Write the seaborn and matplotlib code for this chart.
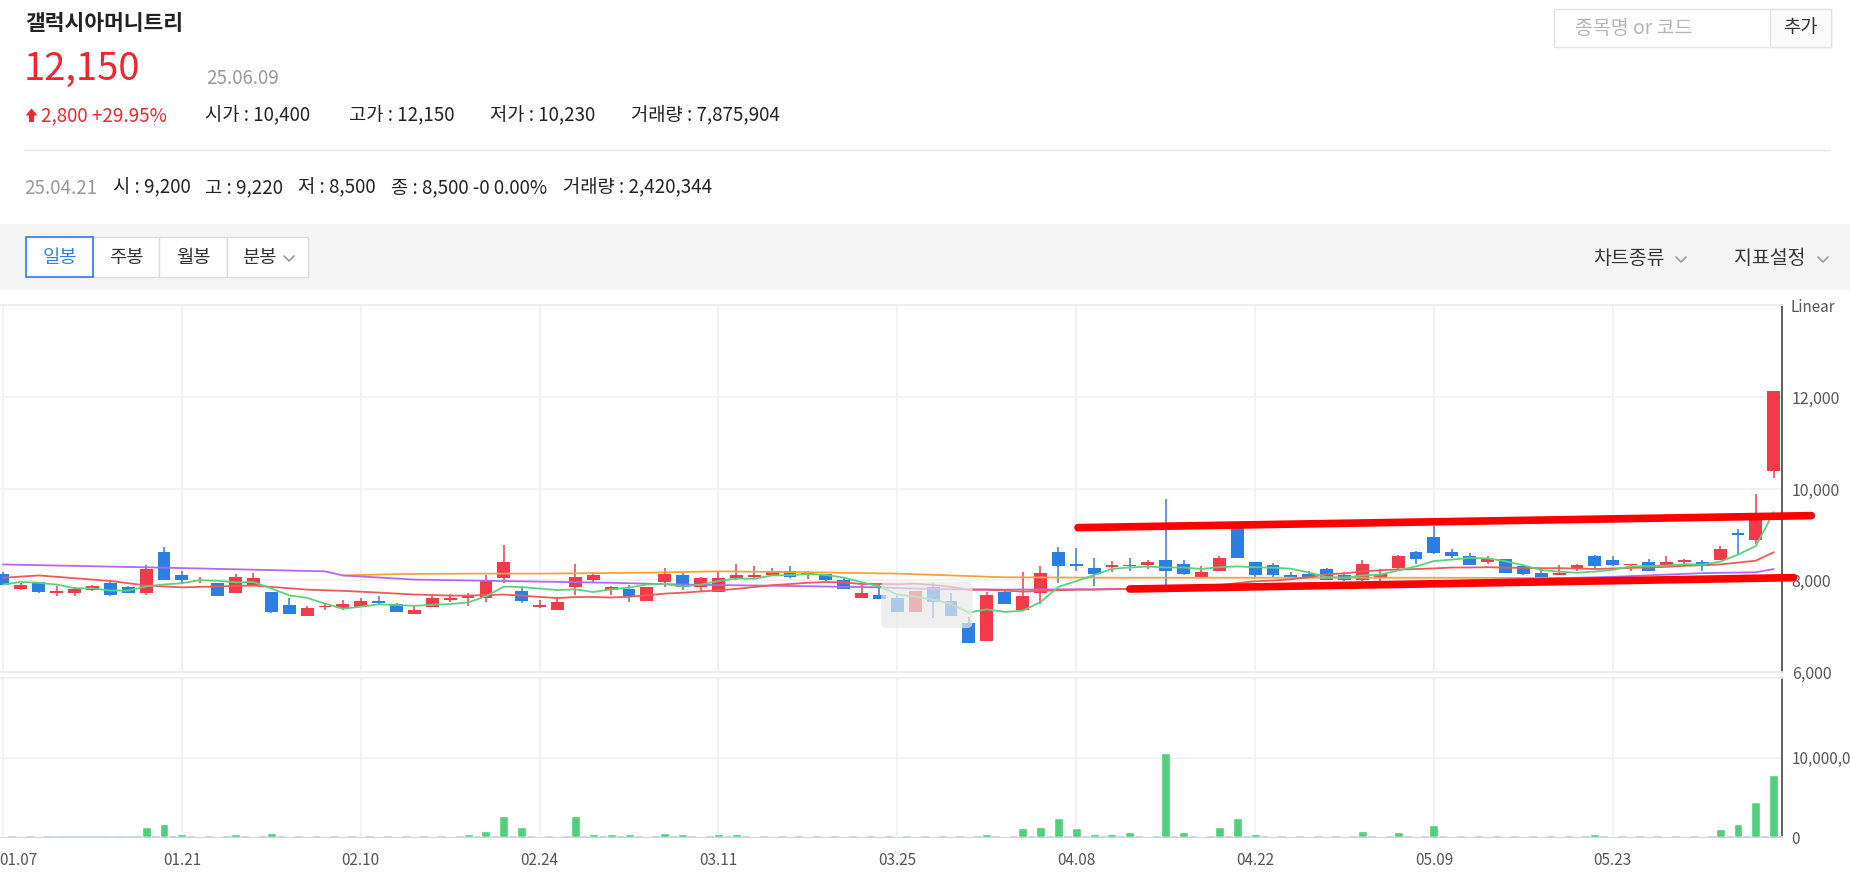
import matplotlib
matplotlib.use('Agg')
import matplotlib.pyplot as plt
import matplotlib.transforms as mtransforms
from matplotlib.patches import Rectangle, FancyBboxPatch, Polygon
import numpy as np
import pandas as pd
import seaborn as sns

# ---- data (daily candles 25.01.07 .. 25.06.09) ----
stock_name = '갤럭시아머니트리'
year = '25'

dates = ['01.07', '01.08', '01.09', '01.10', '01.13', '01.14', '01.15', '01.16', '01.17', '01.20',
         '01.21', '01.22', '01.23', '01.24', '01.31', '02.03', '02.04', '02.05', '02.06', '02.07',
         '02.10', '02.11', '02.12', '02.13', '02.14', '02.17', '02.18', '02.19', '02.20', '02.21',
         '02.24', '02.25', '02.26', '02.27', '02.28', '03.04', '03.05', '03.06', '03.07', '03.10',
         '03.11', '03.12', '03.13', '03.14', '03.17', '03.18', '03.19', '03.20', '03.21', '03.24',
         '03.25', '03.26', '03.27', '03.28', '03.31', '04.01', '04.02', '04.03', '04.04', '04.07',
         '04.08', '04.09', '04.10', '04.11', '04.14', '04.15', '04.16', '04.17', '04.18', '04.21',
         '04.22', '04.23', '04.24', '04.25', '04.28', '04.29', '04.30', '05.02', '05.07', '05.08',
         '05.09', '05.12', '05.13', '05.14', '05.15', '05.16', '05.19', '05.20', '05.21', '05.22',
         '05.23', '05.26', '05.27', '05.28', '05.29', '05.30', '06.02', '06.04', '06.05', '06.09']

opens = [8150, 7820, 7960, 7720, 7720, 7790, 7950, 7850, 7720, 8630,
         8110, 7980, 7940, 7720, 7910, 7740, 7460, 7230, 7420, 7400,
         7420, 7550, 7480, 7260, 7420, 7580, 7620, 7620, 8050, 7760,
         7420, 7360, 7850, 8020, 7800, 7820, 7560, 7960, 8110, 7850,
         7750, 8050, 8080, 8120, 8210, 8140, 8150, 8020, 7620, 7690,
         7620, 7320, 7850, 7550, 7060, 6670, 7750, 7360, 7720, 8630,
         8370, 8280, 8300, 8340, 8340, 8440, 8370, 8080, 8210, 9200,
         8400, 8340, 8110, 8150, 8240, 8110, 8020, 8060, 8280, 8630,
         8960, 8630, 8540, 8410, 8470, 8310, 8170, 8110, 8240, 8530,
         8440, 8340, 8410, 8340, 8410, 8410, 8440, 9030, 8880, 10400]
highs = [8190, 7940, 7960, 7880, 7850, 7910, 7980, 7890, 8340, 8740,
         8210, 8080, 7950, 8150, 8170, 7750, 7620, 7450, 7500, 7570,
         7620, 7660, 7500, 7450, 7690, 7710, 7720, 8130, 8770, 7850,
         7570, 7640, 8350, 8180, 7890, 7910, 7850, 8280, 8180, 8080,
         8180, 8370, 8310, 8280, 8310, 8200, 8150, 8070, 7920, 7920,
         7710, 7770, 7950, 7720, 7200, 7750, 7820, 8180, 8310, 8740,
         8700, 8500, 8430, 8500, 8440, 9790, 8450, 8310, 8530, 9220,
         8400, 8390, 8180, 8200, 8280, 8180, 8440, 8240, 8560, 8640,
         9200, 8680, 8600, 8530, 8470, 8310, 8240, 8340, 8370, 8560,
         8530, 8370, 8470, 8530, 8470, 8440, 8760, 9130, 9880, 12150]
lows = [7900, 7790, 7720, 7660, 7660, 7770, 7670, 7720, 7690, 8010,
        7920, 7950, 7650, 7720, 7880, 7290, 7260, 7230, 7350, 7350,
        7420, 7480, 7320, 7260, 7420, 7530, 7440, 7530, 7950, 7500,
        7400, 7360, 7690, 7960, 7690, 7530, 7560, 7850, 7790, 7760,
        7750, 8020, 8060, 8110, 8060, 8040, 7950, 7820, 7620, 7590,
        7320, 7320, 7170, 7230, 6640, 6670, 7490, 7360, 7490, 7950,
        8210, 7880, 8180, 8210, 8240, 7910, 8110, 8080, 8210, 8500,
        8080, 8080, 8070, 8080, 8020, 7990, 7990, 7990, 8240, 8370,
        8570, 8500, 8340, 8370, 8170, 8110, 8010, 8110, 8210, 8280,
        8310, 8210, 8210, 8310, 8310, 8210, 8440, 8570, 8790, 10230]
closes = [7910, 7910, 7740, 7780, 7820, 7880, 7690, 7720, 8250, 8020,
          8020, 8020, 7660, 8080, 8050, 7320, 7260, 7390, 7450, 7490,
          7550, 7510, 7320, 7360, 7610, 7620, 7690, 8000, 8410, 7560,
          7460, 7520, 8080, 8120, 7850, 7660, 7850, 8140, 7850, 8050,
          8050, 8120, 8120, 8210, 8080, 8180, 8020, 7820, 7720, 7590,
          7320, 7770, 7530, 7230, 6640, 7680, 7490, 7650, 8170, 8310,
          8310, 8150, 8340, 8310, 8410, 8210, 8150, 8180, 8500, 8500,
          8110, 8110, 8070, 8080, 8020, 8020, 8370, 8150, 8530, 8470,
          8600, 8530, 8340, 8470, 8170, 8150, 8010, 8170, 8340, 8310,
          8340, 8370, 8210, 8410, 8440, 8310, 8680, 8990, 9350, 12150]
volumes = [170000, 170000, 170000, 60000, 60000, 60000, 60000, 60000, 1310000, 1690000,
           340000, 170000, 170000, 340000, 80000, 550000, 170000, 80000, 80000, 80000,
           80000, 80000, 80000, 80000, 170000, 80000, 340000, 760000, 2660000, 1310000,
           170000, 80000, 2660000, 340000, 340000, 340000, 170000, 550000, 340000, 80000,
           340000, 340000, 170000, 80000, 80000, 80000, 170000, 80000, 80000, 80000,
           170000, 80000, 170000, 80000, 170000, 340000, 80000, 1140000, 1310000, 2450000,
           1140000, 340000, 340000, 590000, 170000, 10630000, 590000, 170000, 1310000, 2420344,
           340000, 170000, 80000, 80000, 170000, 80000, 760000, 170000, 590000, 170000,
           1520000, 170000, 170000, 80000, 80000, 80000, 80000, 80000, 80000, 340000,
           170000, 80000, 170000, 170000, 170000, 170000, 970000, 1690000, 4390000, 7875904]

# moving-average values read where the history starts before the window
ma5_head = [7910, 7970, 7950, 7910]
ma20_head_idx = [0, 2, 6, 8, 10, 12, 14, 17]
ma20_head_val = [8060, 8110, 7990, 7890, 7850, 7870, 7890, 7800]
ma60_idx = [0, 9, 18, 19, 23, 26, 34, 38, 44, 49, 52, 56, 62, 70, 80, 90, 95, 98, 99]
ma60_val = [8350, 8280, 8200, 8110, 8020, 8000, 7950, 7910, 7880, 7850, 7810, 7800, 7810,
            7880, 7980, 8080, 8160, 8180, 8250]
ma120_idx = [19, 22, 26, 30, 36, 40, 45, 50, 53, 56, 62, 70, 80, 90, 99]
ma120_val = [8110, 8140, 8150, 8150, 8170, 8200, 8180, 8150, 8110, 8070, 8060, 8060, 8060, 8050, 8050]

# hand-drawn channel lines (day index, price)
upper_x, upper_y = [60.1, 101.1], [9155, 9417]
lower_x, lower_y = [63.0, 100.1], [7814, 8062]

tip_day = 69  # hovered day shown in the second header row

RED = '#f23a4b'
BLUE = '#2b7fe3'
TXT = '#222222'

sns.set_theme(style='white')
plt.rcParams['font.family'] = ['Noto Sans CJK KR', 'DejaVu Sans']

fig = plt.figure(figsize=(18.5, 8.75), dpi=100)

# ---- page header drawn in pixel coordinates ----
bg = fig.add_axes([0, 0, 1, 1])
bg.set_xlim(0, 1850)
bg.set_ylim(875, 0)
bg.axis('off')

n = len(closes)
chg = closes[-1] - closes[-2]
pct = chg / closes[-2] * 100

bg.text(25, 24, stock_name, fontsize=15.5, fontweight='bold', color=TXT, va='center')
bg.text(24, 69, f'{closes[-1]:,}', fontsize=27.5, fontweight='medium', color='#f0262f', va='center')
bg.text(206, 78, f'{year}.{dates[-1]}', fontsize=13.5, color='#999999', va='center')
bg.add_patch(Polygon([(31.5, 108.5), (37.5, 115.5), (34, 115.5), (34, 122), (29, 122),
                      (29, 115.5), (25.5, 115.5)], closed=True, color='#f0262f', lw=0))
bg.text(41, 116, f'{chg:,} +{pct:.2f}%', fontsize=13.5, color='#f0262f', va='center')
row3 = [(205, f'시가 : {opens[-1]:,}'), (349, f'고가 : {highs[-1]:,}'),
        (490, f'저가 : {lows[-1]:,}'), (631, f'거래량 : {volumes[-1]:,}')]
for xx, s in row3:
    bg.text(xx, 116, s, fontsize=13.5, color=TXT, va='center')
bg.plot([24, 1830], [150, 150], color='#e6e6e6', lw=1)

t = tip_day
bg.text(24, 188, f'{year}.{dates[t]}', fontsize=13.5, color='#999999', va='center')
row4 = [(113, f'시 : {opens[t]:,}'), (205, f'고 : {highs[t]:,}'), (298, f'저 : {lows[t]:,}'),
        (391, f'종 : {closes[t]:,} -0 0.00%'), (563, f'거래량 : {volumes[t]:,}')]
for xx, s in row4:
    bg.text(xx, 188, s, fontsize=13.5, color=TXT, va='center')

# search box
bg.add_patch(Rectangle((1554, 9), 277, 38, fc='white', ec='#e3e3e3', lw=1))
bg.add_patch(Rectangle((1770, 9), 61, 38, fc='#fafafa', ec='#e3e3e3', lw=1))
bg.text(1575, 28, '종목명 or 코드', fontsize=14, color='#b5b5b5', va='center')
bg.text(1800, 28, '추가', fontsize=13.5, color='#333333', va='center', ha='center')

# toolbar
bg.add_patch(Rectangle((0, 224), 1850, 66, fc='#f5f5f5', lw=0))
tabs = [('일봉', 26, 93, 59.5), ('주봉', 93, 159, 126), ('월봉', 159, 227, 193), ('분봉', 227, 308, 259)]
for name, x0, x1, xc in tabs:
    bg.add_patch(Rectangle((x0, 237), x1 - x0, 40, fc='white', ec='#dddddd', lw=1))
bg.add_patch(Rectangle((26, 237), 67, 40, fc='none', ec='#2f80ed', lw=1.2))
for name, x0, x1, xc in tabs:
    bg.text(xc, 257, name, fontsize=13.5, ha='center', va='center',
            color='#2f80ed' if name == '일봉' else '#333333')


def chevron(x0, y0):
    bg.plot([x0, x0 + 5, x0 + 10], [y0 - 3, y0 + 2, y0 - 3], color='#999999', lw=1.2)


chevron(284, 259)
bg.text(1593, 258, '차트종류', fontsize=14, color='#333333', va='center')
chevron(1676, 260)
bg.text(1734, 258, '지표설정', fontsize=14, color='#333333', va='center')
chevron(1818, 260)

# ---- price panel ----
ax = fig.add_axes([0, 1 - 672 / 875, 1782 / 1850, 367 / 875])
axv = fig.add_axes([0, 1 - 837 / 875, 1782 / 1850, 159 / 875])

x = np.arange(n)
o = np.array(opens)
h = np.array(highs)
l = np.array(lows)
c = np.array(closes)
cols = np.where(c >= o, RED, BLUE)

ax.vlines(x, l, h, colors=cols, lw=1.1, zorder=3)
ax.bar(x, np.maximum(np.abs(c - o), 25), bottom=np.minimum(o, c), width=0.72,
       color=cols, lw=0, zorder=4)

cs = pd.Series(closes, dtype=float)
ma5 = cs.rolling(5).mean()
ma5_df = pd.DataFrame({'x': x, 'y': list(ma5_head) + list(ma5[4:])})
ma20 = cs.rolling(20).mean()
ma20_df = pd.DataFrame({'x': ma20_head_idx + list(x[19:]),
                        'y': ma20_head_val + list(ma20[19:])})
ma60_df = pd.DataFrame({'x': ma60_idx, 'y': ma60_val})
ma120_df = pd.DataFrame({'x': ma120_idx, 'y': ma120_val})

for df, col in [(ma120_df, '#f5a13c'), (ma60_df, '#b468ee'), (ma20_df, '#ee5a5a'), (ma5_df, '#5ad27c')]:
    sns.lineplot(data=df, x='x', y='y', color=col, lw=1.3, sort=False, ax=ax, zorder=5)

# grey hover overlay box
ax.add_patch(FancyBboxPatch((49.1, 6960), 5.1, 1010,
                            boxstyle='round,pad=0,rounding_size=0.3', mutation_aspect=380,
                            fc='#e9e9e9', ec='none', alpha=0.7, zorder=6))

ax.plot(upper_x, upper_y, color='#ff0000', lw=5.5, solid_capstyle='round', clip_on=False, zorder=10)
ax.plot(lower_x, lower_y, color='#ff0000', lw=5.5, solid_capstyle='round', clip_on=False, zorder=10)

# ---- volume panel ----
sns.barplot(x=x, y=volumes, native_scale=True, width=0.5, color='#52cf7d', saturation=1,
            errorbar=None, ax=axv, zorder=3)

ticks = list(range(0, 100, 10))
for a in (ax, axv):
    a.set_xlim(-0.168, 99.46)
    a.set_xticks(ticks)
    a.set_xlabel('')
    a.set_ylabel('')
    a.set_axisbelow(True)
    a.grid(True, color='#f1f1f1', lw=1.3)
    a.yaxis.tick_right()
    a.tick_params(axis='y', length=0, pad=7, labelsize=11.5, labelcolor='#555555')
    a.spines['left'].set_visible(False)
    a.spines['right'].set_color('#444444')
    a.spines['right'].set_linewidth(1.2)
    a.spines['top'].set_color('#ececec')
    a.spines['bottom'].set_color('#ececec')

ax.set_ylim(6000, 14020)
ax.set_yticks([6000, 8000, 10000, 12000])
ax.set_yticklabels([f'{v:,}' for v in [6000, 8000, 10000, 12000]])
ax.tick_params(axis='x', length=0, labelbottom=False)

axv.set_ylim(0, 20.1e6)
axv.set_yticks([0, 10000000])
axv.set_yticklabels(['0', '10,000,000'], fontsize=11)
axv.set_xticklabels([dates[i] for i in ticks])
axv.tick_params(axis='x', length=4, width=1.2, color='#cdd4e2', pad=7, labelsize=11,
                labelcolor='#555555')
axv.spines['bottom'].set_color('#cdd4e2')
axv.spines['bottom'].set_linewidth(1.5)

# first date label sits slightly right of its tick, partly cut by the edge
first = axv.get_xticklabels()[0]
first.set_ha('left')
first.set_transform(first.get_transform() + mtransforms.ScaledTranslation(-4 / 100, 0, fig.dpi_scale_trans))

bg.text(1791, 307, 'Linear', fontsize=11, color='#555555', va='center')

fig.savefig('out.png', dpi=100)
